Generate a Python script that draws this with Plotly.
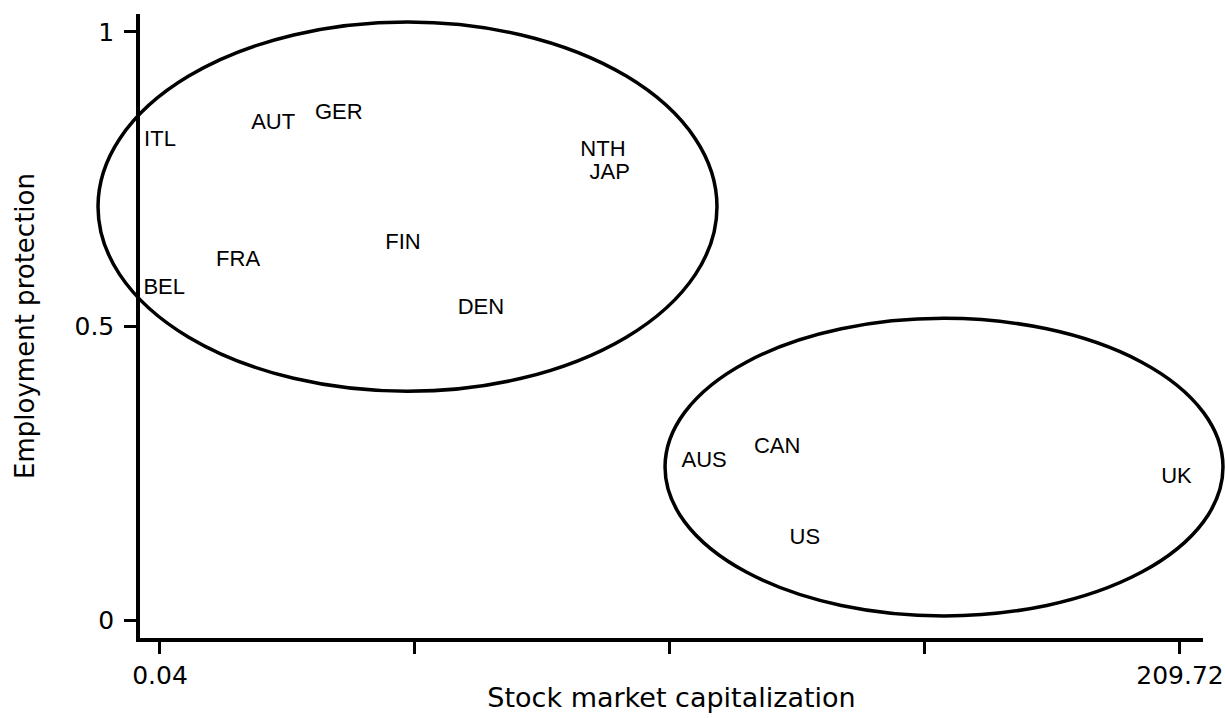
import plotly.graph_objects as go

# ---- data ----
countries = ["ITL", "AUT", "GER", "NTH", "JAP", "FIN", "DEN", "FRA", "BEL",
             "AUS", "CAN", "US", "UK"]
stock_cap = [0.04, 23.3, 36.8, 91.1, 92.5, 50.0, 66.0, 16.1, 0.9,
             111.9, 126.9, 132.6, 209.0]
emp_prot = [0.815, 0.844, 0.862, 0.798, 0.760, 0.641, 0.529, 0.612, 0.563,
            0.269, 0.293, 0.139, 0.243]

x_tickvals = [0.04, 52.46, 104.88, 157.30, 209.72]
x_ticktext = ["0.04", "", "", "", "209.72"]
y_tickvals = [0, 0.5, 1]
y_ticktext = ["0", "0.5", "1"]

# cluster ellipses (data units): centre x, centre y, half-width, half-height
ell_cx = [50.92, 161.21]
ell_cy = [0.703, 0.260]
ell_rx = [63.62, 57.35]
ell_ry = [0.314, 0.253]

x_range = [-4.07, 214.45]
y_range = [-0.0306, 1.0306]

FONT_TXT = "DejaVu Sans"
FONT_LBL = "Liberation Sans"

fig = go.Figure()
fig.add_trace(go.Scatter(
    x=stock_cap, y=emp_prot, mode="text", text=countries,
    textposition="middle center",
    textfont=dict(family=FONT_LBL, size=22, color="black"),
    cliponaxis=False, hoverinfo="text",
))


def to_dom(v, rng):
    return (v - rng[0]) / (rng[1] - rng[0])


# ellipses drawn in axis-domain units (converted from data units) so that
# they are not clipped at the axis lines, as in the original
for cx, cy, rx, ry in zip(ell_cx, ell_cy, ell_rx, ell_ry):
    fig.add_shape(
        type="circle", xref="x domain", yref="y domain",
        x0=to_dom(cx - rx, x_range), x1=to_dom(cx + rx, x_range),
        y0=to_dom(cy - ry, y_range), y1=to_dom(cy + ry, y_range),
        line=dict(color="black", width=3.5), layer="above",
    )

fig.update_xaxes(
    range=x_range, showgrid=False, zeroline=False,
    showline=True, linecolor="black", linewidth=3.5,
    ticks="outside", ticklen=12, tickwidth=3, tickcolor="black",
    tickvals=x_tickvals, ticktext=x_ticktext,
    tickfont=dict(family=FONT_TXT, size=25, color="black"),
    title=dict(text="Stock market capitalization",
               font=dict(family=FONT_TXT, size=27, color="black"),
               standoff=0),
)
fig.update_yaxes(
    range=y_range, showgrid=False, zeroline=False,
    showline=True, linecolor="black", linewidth=3.5,
    ticks="outside", ticklen=12, tickwidth=3, tickcolor="black",
    tickvals=y_tickvals, ticktext=y_ticktext,
    tickfont=dict(family=FONT_TXT, size=25, color="black"),
    ticklabelstandoff=5,
    title=dict(text="Employment protection",
               font=dict(family=FONT_TXT, size=26, color="black"),
               standoff=33),
)
fig.update_layout(
    width=1225, height=718,
    margin=dict(l=140, r=22, t=14, b=80, autoexpand=False),
    plot_bgcolor="white", paper_bgcolor="white",
    showlegend=False,
)

fig.write_html("out.html",
               config={"displayModeBar": False},
               post_script="document.body.style.margin='0px';")
